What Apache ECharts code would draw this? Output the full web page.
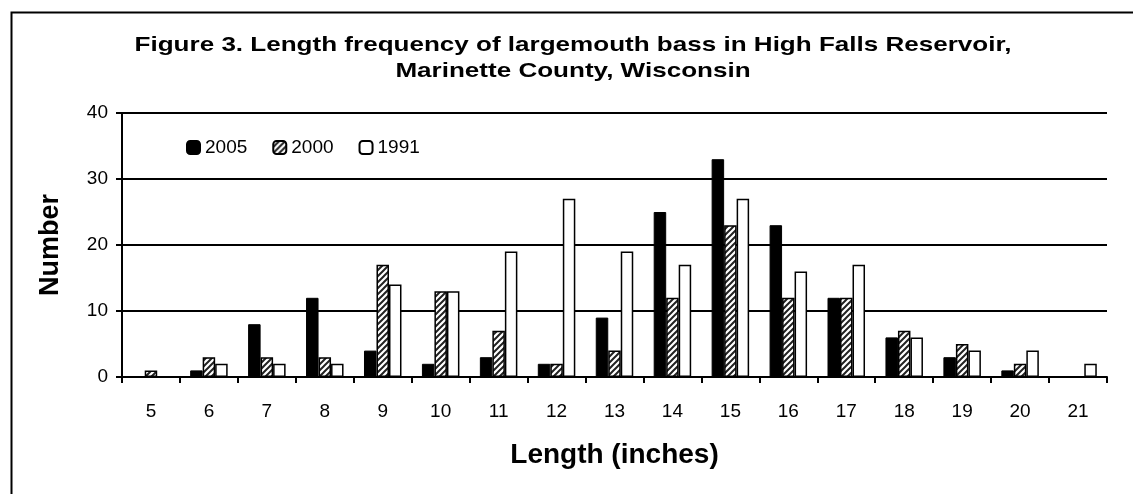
<!DOCTYPE html>
<html>
<head>
<meta charset="utf-8">
<script src="https://cdn.jsdelivr.net/npm/echarts@6/dist/echarts.min.js"></script>
<style>
html, body { margin: 0; padding: 0; background: #fff; }
#main { width: 1133px; height: 494px; }
</style>
</head>
<body>
<div id="main"></div>
<script>
var lengths = ['5', '6', '7', '8', '9', '10', '11', '12', '13', '14', '15', '16', '17', '18', '19', '20', '21'];
var y2005 = [0, 1, 8, 12, 4, 2, 3, 2, 9, 25, 33, 23, 12, 6, 3, 1, 0];
var y2000 = [1, 3, 3, 3, 17, 13, 7, 2, 4, 12, 23, 12, 12, 7, 5, 2, 0];
var y1991 = [0, 2, 2, 2, 14, 13, 19, 27, 19, 17, 27, 16, 17, 6, 4, 4, 2];
var titleLines = ['Figure 3. Length frequency of largemouth bass in High Falls Reservoir,', 'Marinette County, Wisconsin'];

// hatch pattern for the 2000 bars
function hatch() {
	var c = document.createElement('canvas');
	c.width = 6; c.height = 6;
	var g = c.getContext('2d');
	g.fillStyle = '#fff';
	g.fillRect(0, 0, 6, 6);
	g.strokeStyle = '#222';
	g.lineWidth = 2;
	g.beginPath();
	g.moveTo(-1, 7); g.lineTo(7, -1);
	g.moveTo(-4, 4); g.lineTo(4, -4);
	g.moveTo(2, 10); g.lineTo(10, 2);
	g.stroke();
	return c;
}

var myChart = echarts.init(document.getElementById('main'));
var font = 'Liberation Sans, Arial, sans-serif';

var option = {
	animation: false,
	textStyle: { fontFamily: font, color: '#000' },
	graphic: [{
		type: 'rect', left: 9, top: 10, shape: { width: 1140, height: 500 },
		style: { fill: 'none', stroke: '#000', lineWidth: 2 }, silent: true
	}, {
		// title, stretched a little wider than the plain font
		type: 'text', x: 573, y: 45, scaleX: 1.24,
		style: { text: titleLines[0], font: 'bold 21px ' + font, fill: '#000', textAlign: 'center', textVerticalAlign: 'middle' }
	}, {
		type: 'text', x: 573, y: 71, scaleX: 1.24,
		style: { text: titleLines[1], font: 'bold 21px ' + font, fill: '#000', textAlign: 'center', textVerticalAlign: 'middle' }
	}],
	legend: {
		left: 181, top: 133,
		itemWidth: 13, itemHeight: 13, itemGap: 25,
		textStyle: { fontSize: 19, color: '#000', padding: [0, 0, 0, 0] },
		data: ['2005', '2000', '1991']
	},
	grid: { left: 122, right: 26, top: 113, bottom: 117 },
	xAxis: {
		type: 'category', data: lengths,
		name: 'Length (inches)', nameLocation: 'middle', nameGap: 64,
		nameTextStyle: { fontSize: 28, fontWeight: 'bold', color: '#000' },
		axisLine: { lineStyle: { color: '#000', width: 2 } },
		axisTick: { show: true, length: 6, lineStyle: { color: '#000', width: 2 } },
		axisLabel: { fontSize: 19, color: '#000', margin: 25 }
	},
	yAxis: {
		type: 'value', min: 0, max: 40, interval: 10,
		name: 'Number', nameLocation: 'middle', nameGap: 58, nameRotate: 90,
		nameTextStyle: { fontSize: 27, fontWeight: 'bold', color: '#000' },
		axisLine: { show: true, lineStyle: { color: '#000', width: 2 } },
		axisTick: { show: true, length: 6, lineStyle: { color: '#000', width: 2 } },
		axisLabel: { fontSize: 19, color: '#000', margin: 14 },
		splitLine: { lineStyle: { color: '#000', width: 2 } }
	},
	series: [
		{ name: '2005', type: 'bar', data: y2005, barWidth: 12.5, barGap: '0%',
			itemStyle: { color: '#000', borderColor: '#000', borderWidth: 1 } },
		{ name: '2000', type: 'bar', data: y2000, barWidth: 12.5, barGap: '0%',
			itemStyle: { color: { image: hatch(), repeat: 'repeat' }, borderColor: '#000', borderWidth: 1.5 } },
		{ name: '1991', type: 'bar', data: y1991, barWidth: 12.5, barGap: '0%',
			itemStyle: { color: '#fff', borderColor: '#000', borderWidth: 1.5 } }
	]
};

myChart.setOption(option);
</script>
</body>
</html>
